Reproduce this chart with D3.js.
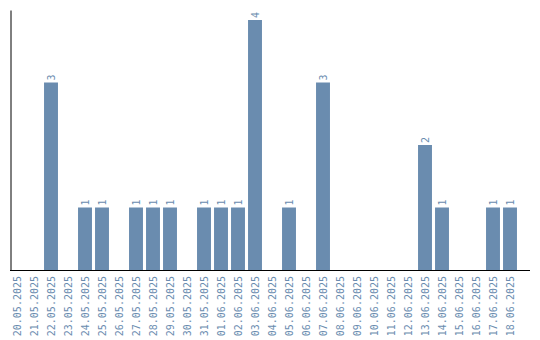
<!DOCTYPE html>
<html>
<head>
<meta charset="utf-8">
<script src="https://cdn.jsdelivr.net/npm/d3@7"></script>
<style>
    body { margin: 0; background: #fff; }
    .axis text { font-family: "DejaVu Sans Mono", monospace; font-size: 10px; fill: #6a8caf; }
    .value-label { font-family: "DejaVu Sans Mono", monospace; font-size: 10px; fill: #6a8caf; }
</style>
</head>
<body>
<div id="chart"></div>
<script>
// dates (categories) and counts
const dates = [
    "20.05.2025", "21.05.2025", "22.05.2025", "23.05.2025", "24.05.2025",
    "25.05.2025", "26.05.2025", "27.05.2025", "28.05.2025", "29.05.2025",
    "30.05.2025", "31.05.2025", "01.06.2025", "02.06.2025", "03.06.2025",
    "04.06.2025", "05.06.2025", "06.06.2025", "07.06.2025", "08.06.2025",
    "09.06.2025", "10.06.2025", "11.06.2025", "12.06.2025", "13.06.2025",
    "14.06.2025", "15.06.2025", "16.06.2025", "17.06.2025", "18.06.2025"
];
const counts = [
    0, 0, 3, 0, 1,
    1, 0, 1, 1, 1,
    0, 1, 1, 1, 4,
    0, 1, 0, 3, 0,
    0, 0, 0, 0, 2,
    1, 0, 0, 1, 1
];

const data = dates.map((d, i) => ({ date: d, count: counts[i] }));

let width = 540, height = 340;

let svg = d3.select("#chart").append("svg")
    .attr("width", width)
    .attr("height", height);

let x = d3.scaleBand()
    .domain(dates)
    .range([8.5, 518.5])
    .paddingInner(0.18)
    .paddingOuter(0.09);

let yMax = d3.max(counts);
let y = d3.scaleLinear()
    .domain([0, yMax * 1.04])
    .range([270, 10]);

// bars
svg.selectAll(".bar")
    .data(data.filter(d => d.count > 0))
    .enter()
    .append("rect")
    .attr("class", "bar")
    .attr("x", d => x(d.date))
    .attr("y", d => y(d.count))
    .attr("width", x.bandwidth())
    .attr("height", d => y(0) - y(d.count))
    .attr("fill", "#6a8caf");

// value labels
svg.selectAll(".value-label")
    .data(data.filter(d => d.count > 0))
    .enter()
    .append("text")
    .attr("class", "value-label")
    .attr("transform", d => "translate(" + (x(d.date) + x.bandwidth() / 2 + 3.5) + "," + (y(d.count) - 2) + ") rotate(-90)")
    .style("text-anchor", "start")
    .text(d => d.count);

// x axis
let xAxis = d3.axisBottom(x).tickSize(0).tickSizeOuter(0);
let gx = svg.append("g")
    .attr("class", "axis x-axis")
    .attr("transform", "translate(0,270)")
    .call(xAxis);
gx.select(".domain").remove();
gx.selectAll("text")
    .attr("transform", "rotate(-90)")
    .attr("x", -6)
    .attr("y", 0)
    .attr("dy", "0.35em")
    .style("text-anchor", "end");

svg.append("line")
    .attr("x1", 10).attr("x2", 530)
    .attr("y1", 270.5).attr("y2", 270.5)
    .attr("stroke", "#000")
    .attr("stroke-width", 1);

// y axis (line only)
let yAxis = d3.axisLeft(y).ticks(0).tickSize(0).tickSizeOuter(0);
svg.append("g")
    .attr("class", "axis y-axis")
    .attr("transform", "translate(10.5,0)")
    .call(yAxis)
    .select(".domain")
    .attr("stroke", "#000")
    .attr("stroke-width", 1);
</script>
</body>
</html>
